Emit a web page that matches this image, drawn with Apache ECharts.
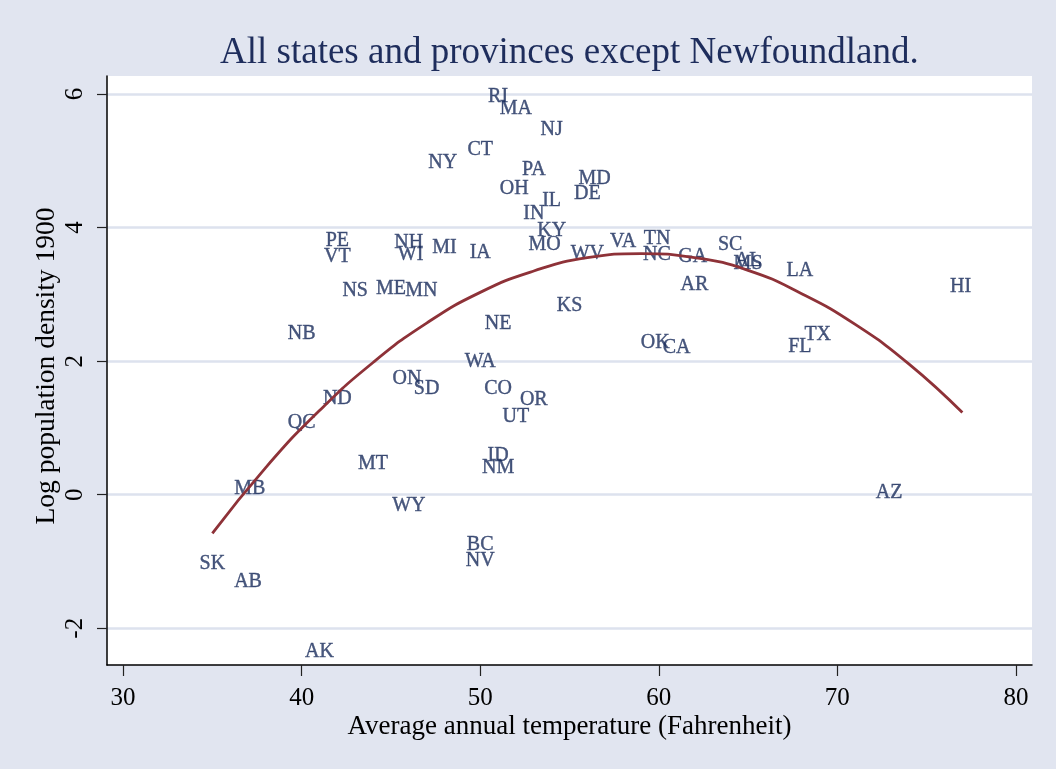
<!DOCTYPE html>
<html>
<head>
<meta charset="utf-8">
<script src="https://cdn.jsdelivr.net/npm/echarts@6/dist/echarts.min.js"></script>
<style>html,body{margin:0;padding:0;background:#e1e5f0;}#c{width:1056px;height:769px;}</style>
</head>
<body>
<div id="c"></div>
<script>
const stateCodes = ['RI','MA','NJ','CT','NY','PA','OH','MD','DE','IL','IN','KY','MO','WV','PE','VT','NH','WI','MI','IA','NS','ME','MN','KS','VA','TN','NC','GA','SC','AL','MS','LA','AR','OK','CA','FL','TX','HI','AZ','NB','NE','WA','ON','SD','CO','OR','UT','ND','QC','MT','ID','NM','MB','WY','BC','NV','SK','AB','AK'];
const temperatures = [51.0,52.0,54.0,50.0,47.9,53.0,51.9,56.4,56.0,54.0,53.0,54.0,53.6,56.0,42.0,42.0,46.0,46.1,48.0,50.0,43.0,45.0,46.7,55.0,58.0,59.9,59.9,61.9,64.0,65.0,65.0,67.9,62.0,59.8,61.0,67.9,68.9,76.9,72.9,40.0,51.0,50.0,45.9,47.0,51.0,53.0,52.0,42.0,40.0,44.0,51.0,51.0,37.1,46.0,50.0,50.0,35.0,37.0,41.0];
const logDensity = [5.99,5.81,5.50,5.20,5.00,4.90,4.61,4.76,4.53,4.43,4.23,3.98,3.78,3.64,3.83,3.60,3.80,3.63,3.73,3.66,3.08,3.11,3.08,2.86,3.82,3.86,3.63,3.59,3.77,3.54,3.49,3.38,3.18,2.30,2.23,2.25,2.43,3.14,0.06,2.44,2.59,2.02,1.76,1.62,1.62,1.45,1.20,1.47,1.11,0.50,0.61,0.43,0.12,-0.13,-0.72,-0.96,-1.01,-1.28,-2.32];
const fitTemps = [35,38,41,44,47,50,53,56,59,62,65,68,71,74,77];
const fitValues = [-0.58,0.41,1.26,1.98,2.57,3.03,3.35,3.55,3.61,3.55,3.36,3.01,2.55,1.96,1.23];
const xTicks = [30,40,50,60,70,80];
const yTicks = [-2,0,2,4,6];
const titleText = 'All states and provinces except Newfoundland.';
const xTitle = 'Average annual temperature (Fahrenheit)';
const yTitle = 'Log population density 1900';

const serif = '"Liberation Serif","Times New Roman",serif';
const chart = echarts.init(document.getElementById('c'), null, {renderer:'canvas'});
const pts = stateCodes.map((c,i)=>[temperatures[i], logDensity[i], c]);
const fit = fitTemps.map((t,i)=>[t, fitValues[i]]);
chart.setOption({
  animation:false,
  backgroundColor:'#e1e5f0',
  title:{text:titleText,left:215,top:30,textStyle:{fontFamily:serif,fontSize:37,fontWeight:'normal',color:'#1e2d5c'}},
  grid:{left:107,right:24,top:76,bottom:104,show:true,backgroundColor:'#ffffff',borderWidth:0},
  xAxis:{type:'value',min:29.1,max:80.9,
    name:xTitle,nameLocation:'middle',nameGap:48,nameMoveOverlap:false,
    nameTextStyle:{fontFamily:serif,fontSize:27,color:'#000'},
    axisLine:{show:true,onZero:false,lineStyle:{color:'#000',width:1.5}},
    axisTick:{show:true,customValues:xTicks,length:11,lineStyle:{color:'#222',width:1.2}},
    axisLabel:{customValues:xTicks,fontFamily:serif,fontSize:25,color:'#000',margin:21},
    splitLine:{show:false}},
  yAxis:{type:'value',min:-2.55,max:6.27,
    name:yTitle,nameLocation:'middle',nameGap:46,nameMoveOverlap:false,
    nameTextStyle:{fontFamily:serif,fontSize:27.5,color:'#000',padding:[0,0,0,9]},
    axisLine:{show:true,onZero:false,lineStyle:{color:'#000',width:1.5}},
    axisTick:{show:true,customValues:yTicks,length:10,lineStyle:{color:'#222',width:1.2}},
    axisLabel:{customValues:yTicks,rotate:90,fontFamily:serif,fontSize:25,color:'#000',margin:19},
    splitLine:{show:true,lineStyle:{color:'#dde2ee',width:2.5}}},
  series:[
    {type:'scatter',data:pts,symbolSize:1,itemStyle:{color:'transparent'},
     label:{show:true,position:'inside',offset:[0,2],formatter:p=>p.data[2],fontFamily:serif,fontSize:20,color:'#1a2d5c',textBorderColor:'#1a2d5c',textBorderWidth:0.4},
     emphasis:{disabled:true},z:2},
    {type:'line',data:fit,smooth:true,showSymbol:false,lineStyle:{color:'#8e3238',width:2.8},z:3}
  ]
});
</script>
</body>
</html>
